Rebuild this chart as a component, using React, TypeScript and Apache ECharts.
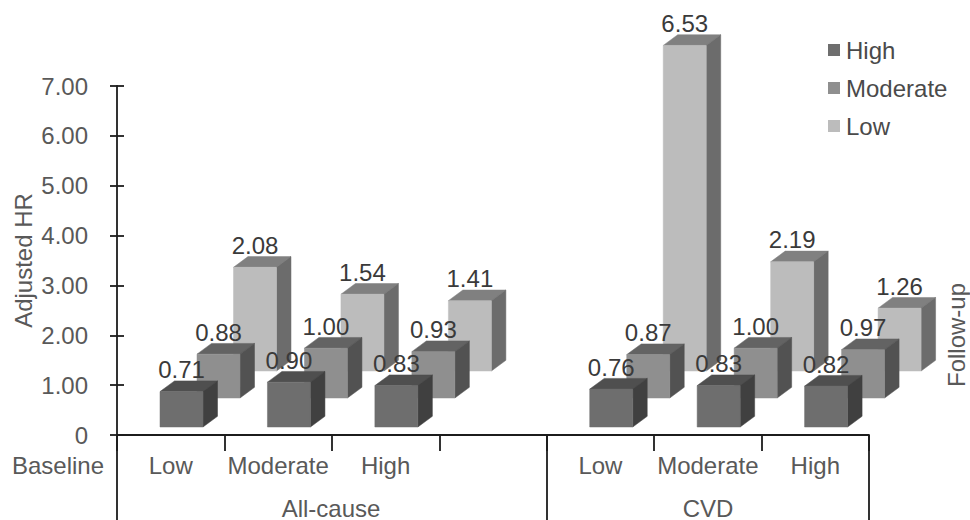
import React, { useEffect, useRef } from "react";
import * as echarts from "echarts";

const categories = ["Low", "Moderate", "High", "", "Low", "Moderate", "High"];
const yTicks = [0, 1, 2, 3, 4, 5, 6, 7];
const highValues = [0.71, 0.9, 0.83, null, 0.76, 0.83, 0.82];
const moderateValues = [0.88, 1.0, 0.93, null, 0.87, 1.0, 0.97];
const lowValues = [2.08, 1.54, 1.41, null, 6.53, 2.19, 1.26];

const FONT = "Liberation Sans";
const FS = 24;
const AXIS_TEXT = "#595959";
const LABEL_TEXT = "#3a3a3a";
const LINE = "#1c1c1c";

function bar3d(
  name: string,
  values: (number | null)[],
  offsetX: number,
  lift: number,
  front: string,
  top: string,
  side: string,
) {
  const width = 43;
  const dx = 14.5;
  const dy = 10.7;
  return {
    name,
    type: "custom",
    coordinateSystem: "cartesian2d",
    itemStyle: { color: front },
    encode: { x: 0, y: 1 },
    data: values.map((v, i) => [i, v]),
    renderItem: (_p: any, api: any) => {
      const v = api.value(1);
      if (v == null || isNaN(v)) return null;
      const i = api.value(0);
      const [cx, yTop0] = api.coord([i, v]);
      const yBase0 = api.coord([i, 0])[1];
      const l = cx + offsetX;
      const r = l + width;
      const t = yTop0 - lift;
      const b = yBase0 - lift;
      const face = (pts: number[][], fill: string) => ({
        type: "polygon",
        shape: { points: pts },
        style: { fill, stroke: fill, lineWidth: 0.5 },
      });
      return {
        type: "group",
        children: [
          face([[l, t], [r, t], [r + dx, t - dy], [l + dx, t - dy]], top),
          face([[r, t], [r + dx, t - dy], [r + dx, b - dy], [r, b]], side),
          face([[l, t], [r, t], [r, b], [l, b]], front),
          {
            type: "text",
            x: l + width / 2,
            y: t - 10,
            style: {
              text: v.toFixed(2),
              fontFamily: FONT,
              fontSize: FS,
              fill: LABEL_TEXT,
              textAlign: "center",
              textVerticalAlign: "bottom",
              textBaseline: "bottom",
            },
          },
        ],
      };
    },
  };
}

function vLine(x: number, y1: number, y2: number) {
  return {
    type: "line",
    shape: { x1: x, y1, x2: x, y2 },
    style: { stroke: LINE, lineWidth: 1.8 },
  };
}

function label(text: string, x: number, y: number, align = "center", rotation = 0) {
  return {
    type: "text",
    x,
    y,
    rotation,
    style: {
      text,
      fontFamily: FONT,
      fontSize: FS,
      fill: AXIS_TEXT,
      textAlign: align,
      textVerticalAlign: "middle",
      textBaseline: "middle",
    },
  };
}

export default function App() {
  const ref = useRef<HTMLDivElement>(null);
  useEffect(() => {
    document.body.style.margin = "0";
    const chart = echarts.init(ref.current!, null, { renderer: "svg" });
    chart.setOption({
      animation: false,
      backgroundColor: "#ffffff",
      textStyle: { fontFamily: FONT },
      grid: { left: 117, right: 101, top: 86, bottom: 85, outerBoundsMode: "none", containLabel: false },
      legend: {
        data: ["High", "Moderate", "Low"],
        orient: "vertical",
        left: 823,
        top: 33,
        itemWidth: 12,
        itemHeight: 12,
        itemGap: 14,
        icon: "rect",
        textStyle: { fontFamily: FONT, fontSize: FS, color: "#4a4a4a", padding: [0, 0, 0, 1] },
      },
      xAxis: {
        type: "category",
        data: categories,
        boundaryGap: true,
        axisLine: { lineStyle: { color: LINE, width: 1.8 } },
        axisTick: { show: true, length: 16, alignWithLabel: false, lineStyle: { color: LINE, width: 1.8 } },
        axisLabel: { interval: 0, fontFamily: FONT, fontSize: FS, color: AXIS_TEXT, margin: 18 },
        splitLine: { show: false },
      },
      yAxis: [
        {
          type: "value",
          min: yTicks[0],
          max: yTicks[yTicks.length - 1],
          interval: 1,
          name: "Adjusted HR",
          nameLocation: "middle",
          nameRotate: 90,
          nameGap: 82,
          nameMoveOverlap: false,
          nameTextStyle: { fontFamily: FONT, fontSize: FS, color: AXIS_TEXT },
          axisLine: { show: true, onZero: false, lineStyle: { color: LINE, width: 1.8 } },
          axisTick: { show: true, length: 7, lineStyle: { color: LINE, width: 1.8 } },
          axisLabel: {
            fontFamily: FONT,
            fontSize: FS,
            color: AXIS_TEXT,
            margin: 29,
            formatter: (v: number) => (v === 0 ? "0" : v.toFixed(2)),
          },
          splitLine: { show: false },
        },
        {
          type: "value",
          position: "left",
          min: yTicks[0],
          max: yTicks[yTicks.length - 1],
          interval: 1,
          axisLine: { show: false },
          axisTick: { show: true, inside: true, length: 7, lineStyle: { color: LINE, width: 1.8 } },
          axisLabel: { show: false },
          splitLine: { show: false },
        },
      ],
      series: [
        bar3d("Low", lowValues, 62.8, 64, "#bcbcbc", "#808080", "#6c6c6c"),
        bar3d("Moderate", moderateValues, 26.3, 37, "#8f8f8f", "#636363", "#525252"),
        bar3d("High", highValues, -10.7, 8, "#6e6e6e", "#4f4f4f", "#404040"),
      ],
      graphic: {
        elements: [
          vLine(117, 435, 520),
          vLine(547, 435, 520),
          vLine(869, 435, 520),
          label("Baseline", 12, 465, "left"),
          label("All-cause", 331, 508),
          label("CVD", 708, 508),
          label("Follow-up", 956, 335, "center", Math.PI / 2),
        ],
      },
    });
    return () => chart.dispose();
  }, []);
  return <div ref={ref} style={{ width: 970, height: 520 }} />;
}
